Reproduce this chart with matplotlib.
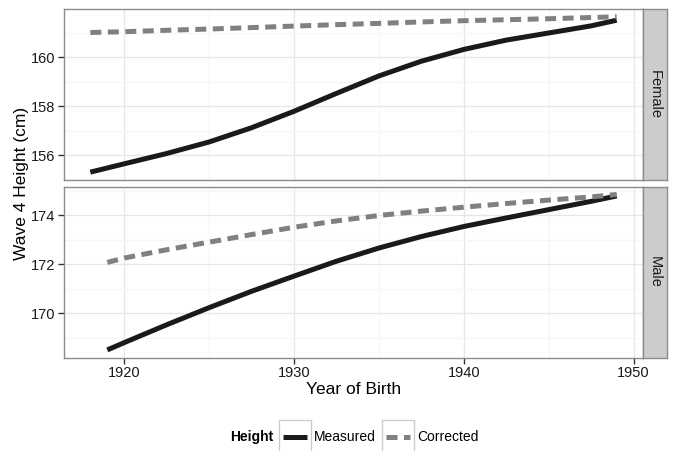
import matplotlib
matplotlib.use("Agg")
import matplotlib.pyplot as plt
from matplotlib.lines import Line2D
from matplotlib.patches import Rectangle

plt.rcParams['font.family'] = ['Liberation Sans', 'DejaVu Sans']

# values
years_f = [1918, 1920, 1922.5, 1925, 1927.5, 1930, 1932.5, 1935, 1937.5, 1940, 1942.5, 1945, 1947.5, 1949]
female_measured = [155.32, 155.66, 156.08, 156.55, 157.13, 157.80, 158.53, 159.24, 159.84, 160.32, 160.70, 160.99, 161.28, 161.51]
female_corrected = [161.01, 161.04, 161.10, 161.15, 161.21, 161.27, 161.33, 161.38, 161.44, 161.49, 161.53, 161.57, 161.62, 161.65]

years_m = [1919, 1920, 1922.5, 1925, 1927.5, 1930, 1932.5, 1935, 1937.5, 1940, 1942.5, 1945, 1947.5, 1949]
male_measured = [168.50, 168.80, 169.53, 170.23, 170.90, 171.52, 172.13, 172.67, 173.14, 173.55, 173.90, 174.24, 174.58, 174.80]
male_corrected = [172.08, 172.26, 172.60, 172.91, 173.22, 173.52, 173.78, 174.00, 174.18, 174.34, 174.49, 174.63, 174.76, 174.86]

panels = [("Female", years_f, female_measured, female_corrected, [156, 158, 160]),
          ("Male", years_m, male_measured, male_corrected, [170, 172, 174])]

W, H = 675, 451
fig = plt.figure(figsize=(6.75, 4.51), dpi=100)

left, right = 64 / W, 643 / W
strip_w = 24 / W
tops = [(9, 180), (186.7, 357.7)]

xmin, xmax = 1918, 1949
xpad = 0.05 * (xmax - xmin)

for (name, yrs, meas, corr, yt), (t, b) in zip(panels, tops):
    ax = fig.add_axes([left, 1 - b / H, right - left, (b - t) / H])
    ax.plot(yrs, meas, color='#1a1a1a', lw=3.6, solid_capstyle='butt',
            solid_joinstyle='round', zorder=3)
    ax.plot(yrs, corr, color='#808080', lw=3.6, dashes=(2.2, 1.3),
            dash_capstyle='butt', zorder=3)
    lo = min(meas + corr)
    hi = max(meas + corr)
    pad = 0.05 * (hi - lo)
    ax.set_ylim(lo - pad, hi + pad)
    ax.set_xlim(xmin - xpad, xmax + xpad)
    ax.set_yticks(yt)
    ax.set_yticks([v + 1 for v in yt] + [yt[0] - 1], minor=True)
    ax.set_xticks([1920, 1930, 1940, 1950])
    ax.set_xticks([1925, 1935, 1945], minor=True)
    ax.grid(which='major', color='#E6E6E6', lw=0.9)
    ax.grid(which='minor', color='#F6F6F6', lw=0.9)
    ax.set_axisbelow(True)
    ax.tick_params(which='major', direction='out', length=4, width=1,
                   color='#333333', labelsize=10.5, labelcolor='#1a1a1a', pad=2)
    ax.tick_params(which='minor', length=0)
    for s in ax.spines.values():
        s.set_color('#8c8c8c')
        s.set_linewidth(1)
    if name == "Female":
        ax.tick_params(axis='x', which='both', bottom=False, labelbottom=False)

    # strip
    sax = fig.add_axes([right, 1 - b / H, strip_w, (b - t) / H])
    sax.set_xticks([])
    sax.set_yticks([])
    sax.set_facecolor('#CCCCCC')
    for s in sax.spines.values():
        s.set_color('#8c8c8c')
        s.set_linewidth(1)
    sax.text(0.5, 0.5, name, rotation=-90, ha='center', va='center',
             fontsize=10.5, color='#1a1a1a', transform=sax.transAxes)

fig.text(22 / W, 1 - 183 / H, "Wave 4 Height (cm)", rotation=90,
         ha='center', va='center', fontsize=12.5)
fig.text((left + right) / 2, 1 - 390 / H, "Year of Birth",
         ha='center', va='center', fontsize=12.5)

# legend along the bottom
ly = 1 - 437 / H
fig.text(230 / W, ly, "Height", ha='left', va='center', fontsize=10, fontweight='bold')
for x0, label, col, dashed in [(279, "Measured", '#1a1a1a', False),
                               (382, "Corrected", '#808080', True)]:
    fig.patches.append(Rectangle((x0 / W, 1 - 452 / H), 32 / W, 32 / H,
                                 transform=fig.transFigure, fill=False,
                                 edgecolor='#cccccc', lw=1))
    ln = Line2D([(x0 + 4) / W, (x0 + 28) / W], [ly, ly], transform=fig.transFigure,
                color=col, lw=3.6, solid_capstyle='butt', dash_capstyle='butt')
    if dashed:
        ln.set_dashes((2.2, 1.3))
    fig.lines.append(ln)
    fig.text((x0 + 35) / W, ly, label, ha='left', va='center', fontsize=10)

fig.savefig("out.png", dpi=100)
